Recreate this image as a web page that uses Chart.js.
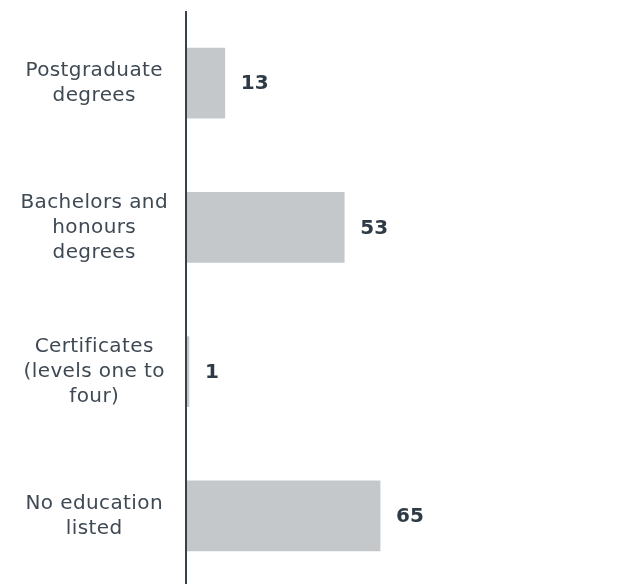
<!DOCTYPE html>
<html>
<head>
<meta charset="utf-8">
<script src="https://cdn.jsdelivr.net/npm/chart.js@4/dist/chart.umd.min.js"></script>
<style>
  html, body { margin: 0; padding: 0; background: #fff; overflow: hidden; }
  #wrap { position: relative; width: 624px; height: 588px; }
</style>
</head>
<body>
<div id="wrap"><canvas id="c"></canvas></div>
<script>
const categories = [
  ["Postgraduate", "degrees"],
  ["Bachelors and", "honours", "degrees"],
  ["Certificates", "(levels one to", "four)"],
  ["No education", "listed"]
];
const values = [13, 53, 1, 65];

const spacing = {
  id: 'spacing',
  beforeUpdate(chart) { chart.ctx.letterSpacing = '0.4px'; },
  beforeDraw(chart) { chart.ctx.letterSpacing = '0.4px'; }
};

const valueLabels = {
  id: 'valueLabels',
  afterDatasetsDraw(chart) {
    const ctx = chart.ctx;
    const meta = chart.getDatasetMeta(0);
    ctx.save();
    ctx.letterSpacing = '0px';
    ctx.font = 'bold 20px "DejaVu Sans"';
    ctx.fillStyle = '#2e3a46';
    ctx.textAlign = 'left';
    ctx.textBaseline = 'middle';
    meta.data.forEach((bar, i) => {
      ctx.fillText(String(values[i]), bar.x + 16, bar.y + 1);
    });
    ctx.restore();
  }
};

const axisLine = {
  id: 'axisLine',
  afterDatasetsDraw(chart) {
    const ctx = chart.ctx;
    const a = chart.chartArea;
    ctx.save();
    ctx.strokeStyle = '#36414c';
    ctx.lineWidth = 2;
    ctx.beginPath();
    ctx.moveTo(a.left, a.top);
    ctx.lineTo(a.left, a.bottom);
    ctx.stroke();
    ctx.restore();
  }
};

new Chart(document.getElementById('c'), {
  type: 'bar',
  data: {
    labels: categories,
    datasets: [{
      data: values,
      backgroundColor: '#c5c8cb',
      borderWidth: 0,
      barThickness: 70
    }]
  },
  options: {
    indexAxis: 'y',
    responsive: true,
    maintainAspectRatio: false,
    animation: false,
    layout: { padding: { top: 11, right: 20, left: 0, bottom: 0 } },
    plugins: { legend: { display: false }, tooltip: { enabled: false } },
    scales: {
      x: {
        display: false,
        min: 0,
        max: 140
      },
      y: {
        grid: { display: false, drawTicks: false },
        border: { display: false },
        afterFit(scale) {
          scale.width = 186;
          scale.paddingTop = 0;
          scale.paddingBottom = 0;
        },
        ticks: {
          crossAlign: 'center',
          padding: 18,
          color: '#3f4953',
          font: { family: '"DejaVu Sans"', size: 20, lineHeight: 1.25 }
        }
      }
    }
  },
  plugins: [spacing, valueLabels, axisLine]
});
</script>
</body>
</html>
